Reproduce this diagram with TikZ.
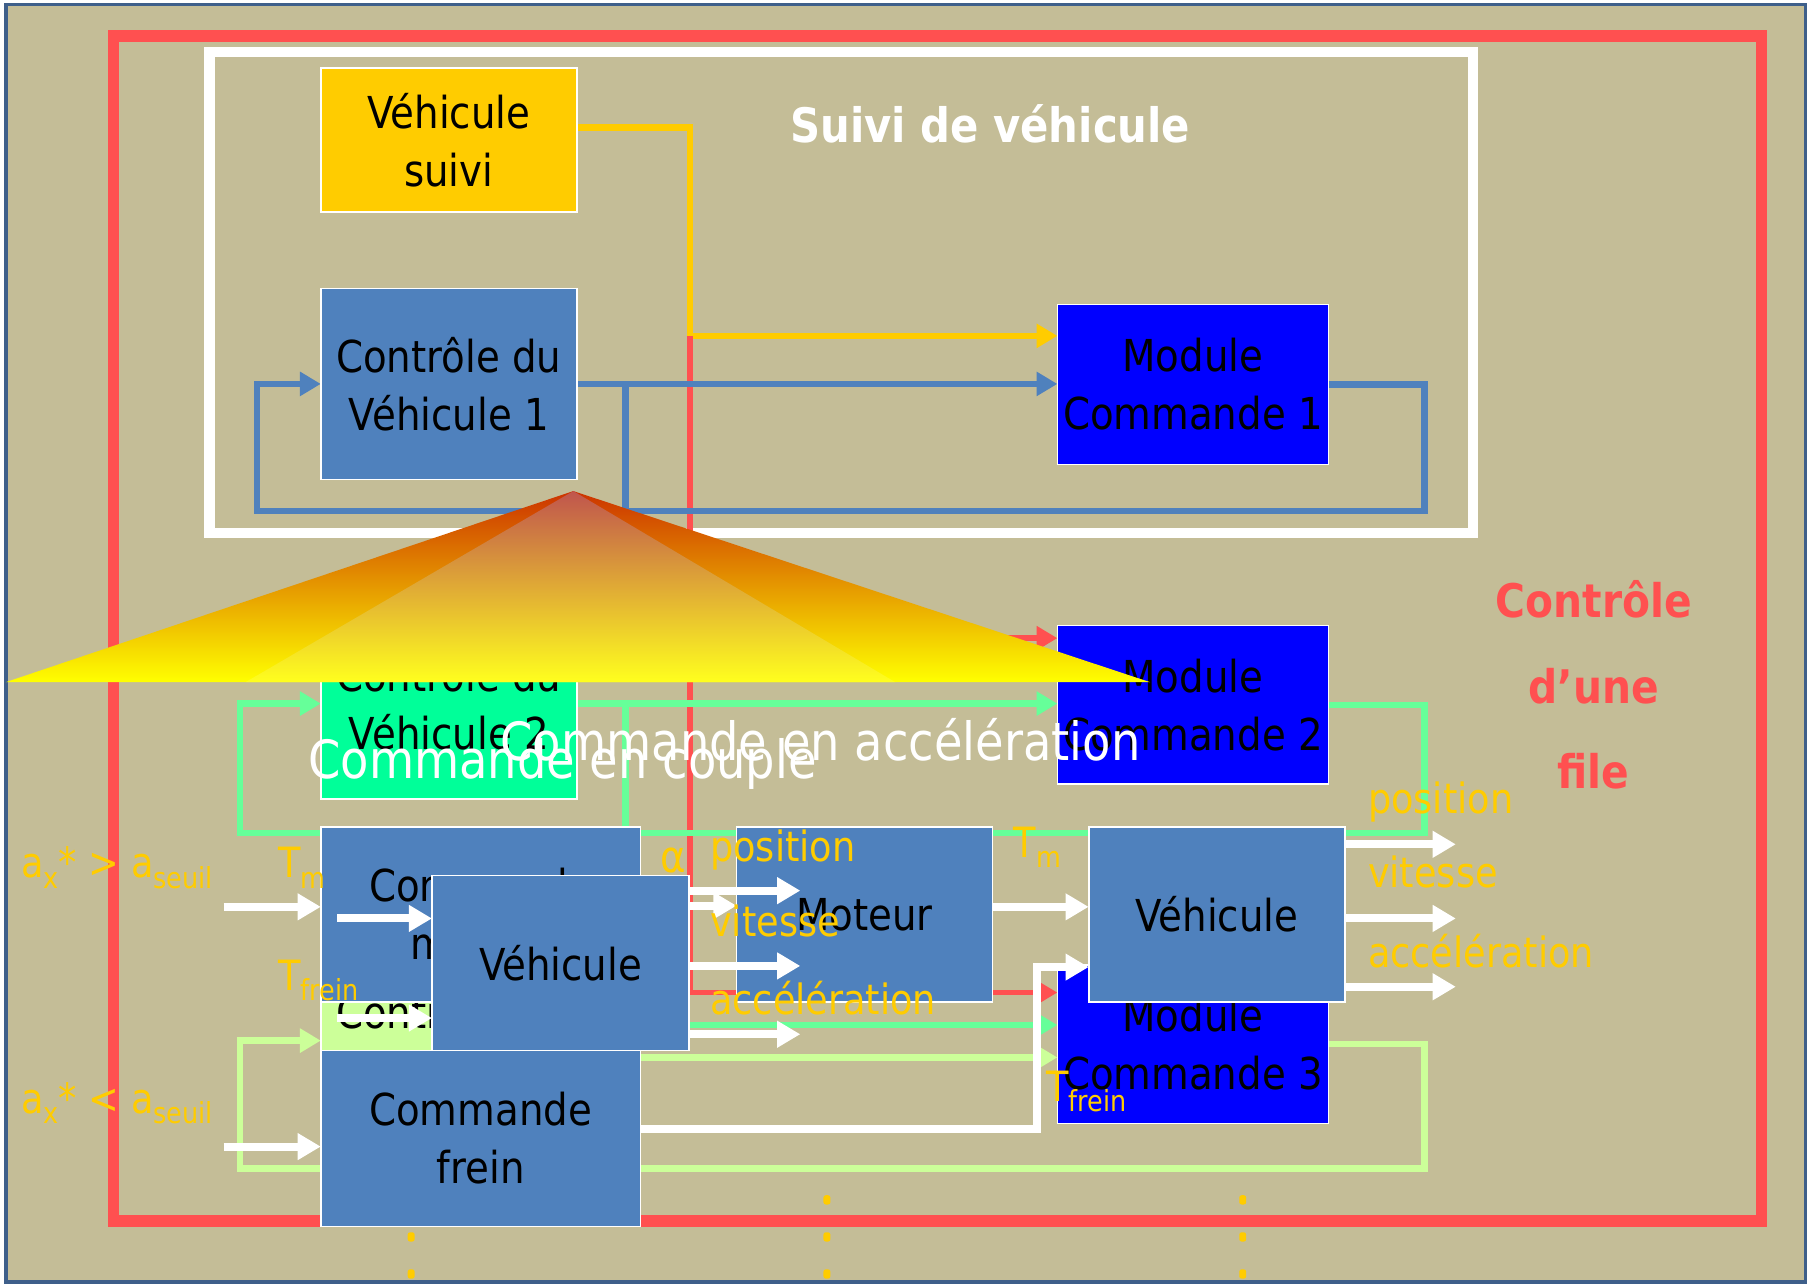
\documentclass[tikz,border=0pt]{standalone}
\usepackage{fontspec}
\setmainfont{DejaVu Sans}[FakeStretch=0.88]
\usetikzlibrary{arrows.meta}
\definecolor{bgtan}{RGB}{196,189,151}
\definecolor{frame}{RGB}{62,95,138}
\definecolor{redl}{RGB}{255,80,80}
\definecolor{steel}{RGB}{79,129,189}
\definecolor{pureblue}{RGB}{0,0,255}
\definecolor{gold}{RGB}{255,204,0}
\definecolor{mint}{RGB}{0,255,153}
\definecolor{lgreen}{RGB}{204,255,153}
\definecolor{gline}{RGB}{102,255,153}
\definecolor{triA}{RGB}{204,51,0}
\definecolor{triB}{RGB}{224,160,0}
\definecolor{triC}{RGB}{255,255,0}
\definecolor{midA}{RGB}{192,85,77}
\definecolor{midB}{RGB}{220,170,70}
\definecolor{midC}{RGB}{255,255,30}
\newcommand{\lsub}[1]{\raisebox{-9pt}{\fontsize{25}{25}\selectfont #1}}
\pgfdeclarelayer{back}
\pgfdeclarelayer{conn}
\pgfsetlayers{back,conn,main}
\begin{document}
\begin{tikzpicture}[x=1pt,y=-1pt,
  box/.style={draw=white, line width=1.5pt, inner sep=0pt, outer sep=0pt, anchor=north west,
    align=center, text=black, font=\fontsize{38}{50}\selectfont},
  lab/.style={text=gold, anchor=base west, inner sep=0pt, font=\fontsize{36}{36}\selectfont},
  ctip/.style={-{Triangle[length=18pt,width=20pt]}},
  cy/.style={draw=gold, line width=5.5pt},
  cr/.style={draw=redl, line width=5pt},
  cb/.style={draw=steel, line width=5.5pt},
  cg/.style={draw=gline, line width=5.5pt},
  clg/.style={draw=lgreen, line width=5.5pt},
  wa/.style={draw=white, line width=7pt, -{Triangle[length=20pt,width=22pt]}}]
\useasboundingbox (0,0) rectangle (1568,1110);
\begin{pgfonlayer}{back}
\fill[white] (0,0) rectangle (1568,1110);
\filldraw[fill=bgtan, draw=frame, line width=3pt] (5,4) rectangle (1559,1107);
\draw[redl, line width=10pt] (98,31) rectangle (1521,1054);
\foreach \dx in {355,714,1073}{
  \foreach \dy in {1036,1068,1100}{
    \fill[gold, rounded corners=2pt] (\dx-3,\dy-4) rectangle (\dx+3,\dy+4);
  }
}
\draw[white, line width=9pt] (181,45) rectangle (1272,460);
\end{pgfonlayer}

% upper boxes
\node[anchor=base, text=white, inner sep=0pt, font=\bfseries\fontsize{41}{41}\selectfont] (title) at (855,123) {Suivi de véhicule};
\node[box, fill=gold, minimum width=221pt, minimum height=124pt] (vs) at (277,59) {Véhicule\\suivi};
\node[box, fill=steel, minimum width=221pt, minimum height=165pt] (c1) at (277,249) {Contrôle du\\Véhicule 1};
\node[box, fill=pureblue, minimum width=234pt, minimum height=138pt] (m1) at (913,263) {Module\\Commande 1};
\node[box, fill=mint, minimum width=221pt, minimum height=165pt] (c2) at (277,525) {Contrôle du\\Véhicule 2};
\node[box, fill=pureblue, minimum width=234pt, minimum height=137pt] (m2) at (913,540) {Module\\Commande 2};

% file label
\node[anchor=base, text=redl, inner sep=0pt, font=\bfseries\fontsize{40}{40}\selectfont] (f1) at (1376,533) {Contrôle};
\node[anchor=base, text=redl, inner sep=0pt, font=\bfseries\fontsize{40}{40}\selectfont] (f2) at (1376,607) {d’une};
\node[anchor=base, text=redl, inner sep=0pt, font=\bfseries\fontsize{40}{40}\selectfont] (f3) at (1376,681) {file};

% pyramid
\shade[top color=triA, middle color=triB, bottom color=triC] (495,424) -- (5,589) -- (993,589) -- cycle;
\shade[top color=midA, middle color=midB, bottom color=midC] (495,424) -- (212,589) -- (773,589) -- cycle;

\node[anchor=base west, text=white, inner sep=0pt, font=\fontsize{45.5}{45.5}\selectfont] (tcc) at (266,672) {Commande en couple};
\node[anchor=base west, text=white, inner sep=0pt, font=\fontsize{45.5}{45.5}\selectfont] (tca) at (432,657) {Commande en accélération};

% lower boxes
\node[box, fill=lgreen, minimum width=221pt, minimum height=165pt] (c3) at (277,816) {Contrôle du\\Véhicule 3};
\node[box, fill=pureblue, minimum width=234pt, minimum height=137pt] (m3) at (913,833) {Module\\Commande 3};
\node[box, fill=steel, minimum width=276pt, minimum height=151pt] (cmot) at (277,714) {Commande\\moteur};
\node[box, fill=steel, minimum width=276pt, minimum height=152pt] (cfr) at (277,907) {Commande\\frein};
\node[box, fill=steel, minimum width=221pt, minimum height=151pt] (mot) at (636,714) {Moteur};
\node[box, fill=steel, minimum width=221pt, minimum height=151pt] (veh) at (940,714) {Véhicule};
\node[box, fill=steel, minimum width=222pt, minimum height=151pt] (veh0) at (373,756) {Véhicule};

% coloured connectors (under boxes)
\begin{pgfonlayer}{conn}
\draw[cy, ctip] ([yshift=11pt]vs.east) -| (596,290) -- ([yshift=42pt]m1.west);
\draw[cr, ctip] (596,290) -- (596,857) -- ([yshift=44.5pt]m3.west);
\draw[cr, ctip] (596,551) -- ([yshift=57.5pt]m2.west);
\draw[cb, ctip] (c1.east) -- (c1.east -| m1.west);
\draw[cb, ctip] (m1.east) -| (1230,441) -| (222,331.5) -- (c1.west);
\draw[cb] (540,332) -- (540,441);
\draw[cg, ctip] (c2.east) -- (c2.east -| m2.west);
\draw[cg, ctip] (m2.east) -| (1230,719) -| (207,607.5) -- (c2.west);
\draw[cg] (540,607.5) -- (540,719);
\draw[cg, ctip] (596,885) -- ([yshift=16.5pt]m3.west);
\draw[clg, ctip] (m3.east) -| (1230,1009) -| (207,898.5) -- (c3.west);
\draw[clg, ctip] (553,913) -- ([yshift=-11.5pt]m3.west);
\end{pgfonlayer}

% white arrows
\coordinate (inA) at (193,783);
\coordinate (inB) at (291,793);
\coordinate (inC) at (291,879);
\coordinate (inD) at (193,990);
\draw[wa] (inA) -- ([yshift=6.5pt]cmot.west);
\draw[wa] (inB) -- ([yshift=38.5pt]veh0.west);
\draw[wa] (inC) -- ([yshift=-47.5pt]veh0.west);
\draw[wa] (inD) -- ([yshift=-7pt]cfr.west);
\draw[wa] ([yshift=62.5pt]veh0.east) -- ++(96,0);
\draw[wa] ([yshift=49.5pt]veh0.east) -- ([yshift=7.5pt]mot.west);
\draw[wa] ([yshift=-2.5pt]veh0.east) -- ++(96,0);
\draw[wa] ([yshift=-61.5pt]veh0.east) -- ++(96,0);
\draw[wa] ([yshift=6.5pt]mot.east) -- ([yshift=6.5pt]veh.west);
\draw[wa] ([yshift=8pt]cfr.east) -| (895,835) -- ([yshift=-45.5pt]veh.west);
\draw[wa] ([yshift=60.5pt]veh.east) -- ++(96,0);
\draw[wa] ([yshift=-3.5pt]veh.east) -- ++(96,0);
\draw[wa] ([yshift=-62.5pt]veh.east) -- ++(96,0);

% labels
\node[lab] (l1) at (18,758) {a\lsub{x}* > a\lsub{seuil}};
\node[lab] (l2) at (18,961) {a\lsub{x}* < a\lsub{seuil}};
\node[lab] (l3) at (240,758) {T\lsub{m}};
\node[lab] (l4) at (240,855) {T\lsub{frein}};
\node[lab, font=\fontsize{38}{38}\selectfont] (l5) at (570,753) {α};
\node[lab] (l6) at (613,744) {position};
\node[lab] (l7) at (613,809) {vitesse};
\node[lab] (l8) at (613,876) {accélération};
\node[lab] (l9) at (875,740) {T\lsub{m}};
\node[lab] (l10) at (903,951) {T\lsub{frein}};
\node[lab] (l11) at (1181,702) {position};
\node[lab] (l12) at (1181,766) {vitesse};
\node[lab] (l13) at (1181,835) {accélération};
\end{tikzpicture}
\end{document}
